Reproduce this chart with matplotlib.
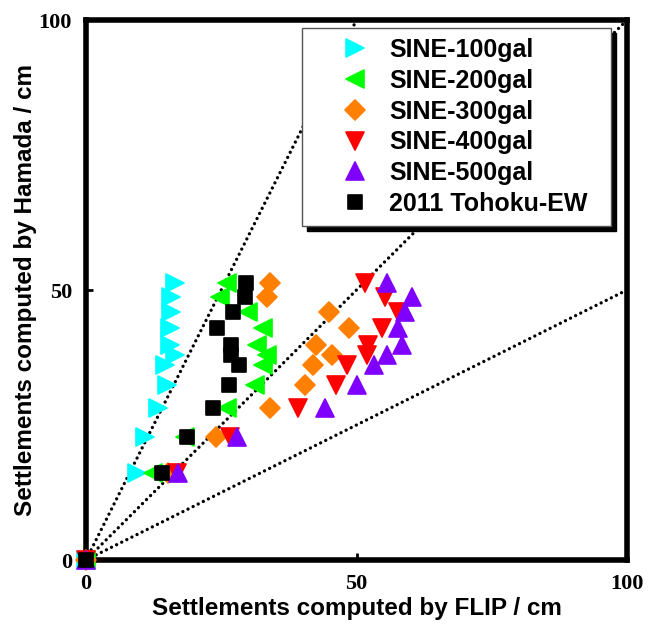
import numpy as np
import matplotlib.pyplot as plt
from matplotlib.markers import MarkerStyle

# Hamada settlements (cm) - same levels for every case
hamada = [0, 16.1, 22.8, 28.1, 32.4, 36.1, 38.0, 39.8, 43.0, 46.0, 48.7, 51.3]

# FLIP settlements (cm) for each case, same order as hamada
flip100 = [0, 9.4, 10.9, 13.3, 15.0, 14.6, 16.4, 15.5, 15.5, 15.8, 15.8, 16.4]
flip200 = [0, 12.4, 18.3, 26.0, 31.2, 32.7, 33.4, 31.7, 32.7, 29.9, 24.7, 26.0]
flip300 = [0, 15.1, 24.0, 34.0, 40.4, 41.9, 45.4, 42.6, 48.7, 45.0, 33.4, 34.0]
flip400 = [0, 16.8, 26.6, 39.1, 46.3, 48.2, 52.0, 52.2, 54.8, 57.6, 55.2, 51.5]
flip500 = [0, 17.0, 28.0, 44.1, 50.0, 53.3, 55.7, 58.5, 57.6, 58.9, 60.3, 55.7]
flipEW = [0, 14.0, 18.6, 23.4, 26.4, 28.2, 26.8, 26.8, 24.2, 27.1, 29.3, 29.5]

labels = ['SINE-100gal', 'SINE-200gal', 'SINE-300gal', 'SINE-400gal',
          'SINE-500gal', '2011 Tohoku-EW']
colors = ['#00FFFF', '#00FF00', '#FF8000', '#FF0000', '#8000FF', '#000000']
marks = ['>', '<', 'D', 'v', '^', 's']
sizes = [12.5, 12.5, 10, 12.5, 12.5, 9.5]
series = [flip100, flip200, flip300, flip400, flip500, flipEW]

# ratio lines Hamada/FLIP = 2, 1, 0.5
ratios = [2.0, 1.0, 0.5]

fig = plt.figure(figsize=(6.48, 6.26), dpi=100)
ax = fig.add_axes([86/648, 1-560/626, 541/648, 540/626])

for r in ratios:
    xe = min(100., 100./r)
    ax.plot([0, xe], [0, r*xe], color='k', ls=(0, (0.01, 1.7)), lw=2.4,
            dash_capstyle='round', zorder=1)

for xs, c, m, s, lab in zip(series, colors, marks, sizes, labels):
    ax.plot(xs, hamada, ls='none', color=c, mec=c, mew=1.2,
            marker=MarkerStyle(m, joinstyle='round'), ms=s, label=lab,
            zorder=3, clip_on=False)

ax.set_xlim(0, 100)
ax.set_ylim(0, 100)
ax.set_xticks([0, 50, 100])
ax.set_yticks([0, 50, 100])
for sp in ax.spines.values():
    sp.set_linewidth(4)
ax.tick_params(direction='in', length=5, width=2, pad=10,
               top=False, right=False)
for t in ax.get_xticklabels() + ax.get_yticklabels():
    t.set_family('Liberation Serif')
    t.set_weight('bold')
    t.set_size(16)

ax.set_xlabel('Settlements computed by FLIP / cm', family='Liberation Sans',
              weight='bold', fontsize=17.5, labelpad=2)
ax.set_ylabel('Settlements computed by Hamada / cm', family='Liberation Sans',
              weight='bold', fontsize=17.5, labelpad=1)

leg = ax.legend(loc='upper left', bbox_to_anchor=(0.3993, 0.0, 0.571, 0.985),
                mode='expand', borderaxespad=0, fancybox=False, framealpha=1,
                edgecolor='#555555', prop={'family': 'Liberation Sans',
                                           'weight': 'bold', 'size': 18},
                labelspacing=0.27, handletextpad=-0.36, borderpad=0.4,
                handlelength=3.44,
                shadow={'color': 'k', 'alpha': 1, 'ox': 3.5, 'oy': -3.5})
leg.get_frame().set_linewidth(1)
leg.set_zorder(5)

fig.savefig('out.png', dpi=100)
